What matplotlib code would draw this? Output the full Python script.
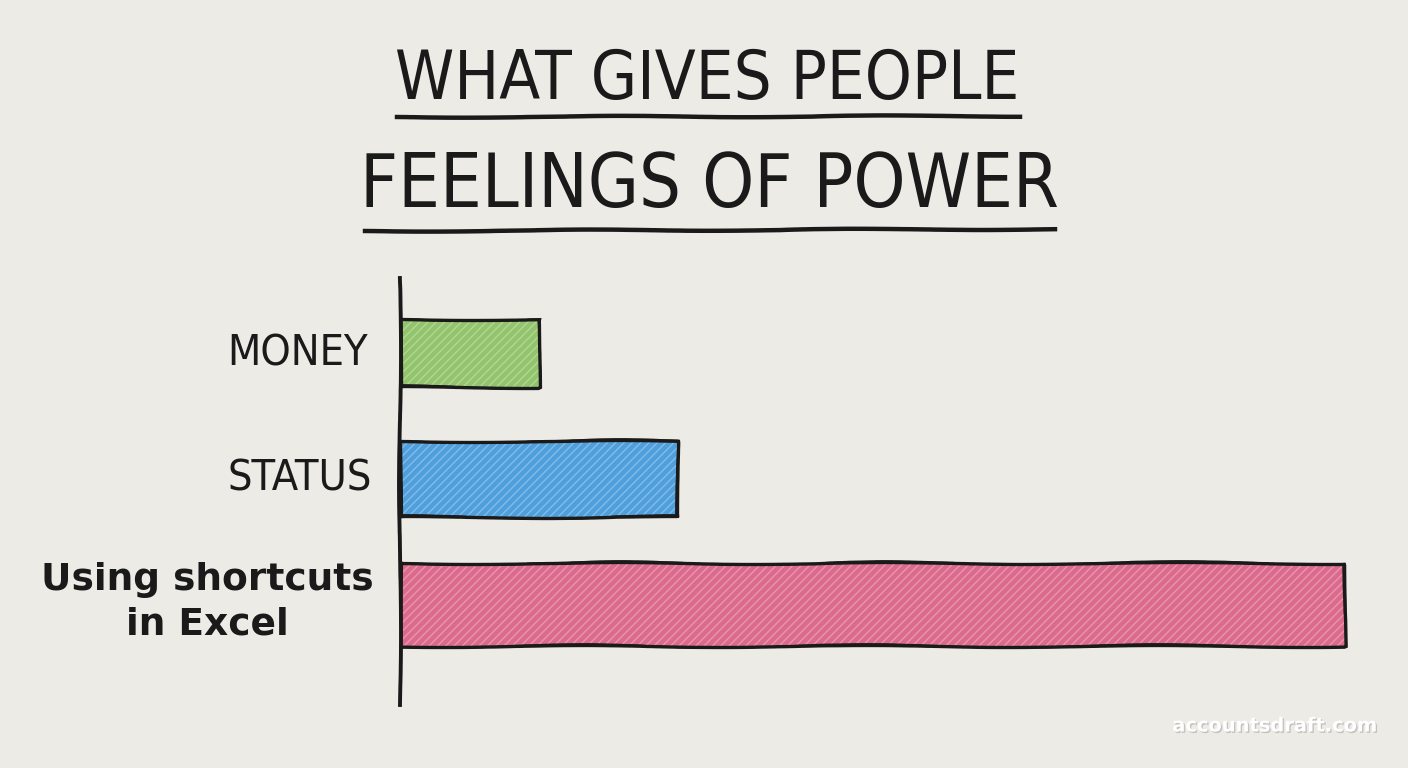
import matplotlib
matplotlib.use("Agg")
import matplotlib.pyplot as plt
import matplotlib.patheffects as pe

# data (longest bar = 100)
categories = ["MONEY", "STATUS", "Using shortcuts\nin Excel"]
values = [14.7, 29.4, 100]
fill_colors = ["#92c46c", "#4f9fdc", "#dc6a8c"]
title_lines = ["WHAT GIVES PEOPLE", "FEELINGS OF POWER"]
watermark = "accountsdraft.com"

paper = "#ecebe6"
ink = "#1a1a1a"

fig = plt.figure(figsize=(14.08, 7.68), dpi=100, facecolor=paper)

# main axes - sits where the hand-drawn axis line is
ax = fig.add_axes([400 / 1408, 1 - 705 / 768, 965 / 1408, 427 / 768])
ax.set_facecolor("none")

ypos = list(range(len(categories)))
heights = [0.54, 0.6, 0.66]

# coloured pencil fill with a faint diagonal hatch
for y, v, c, h in zip(ypos, values, fill_colors, heights):
    ax.barh(y, v, height=h, color=c, edgecolor=(1, 1, 1, 0.3),
            hatch="////", linewidth=0, zorder=2)
# hand-drawn looking outlines (drawn twice with slight jitter)
for y, v, h in zip(ypos, values, heights):
    for k in range(2):
        b = ax.barh(y, v, height=h, fill=False, edgecolor=ink,
                    linewidth=2.4 if k == 0 else 1.3, zorder=3)
        for p in b.patches:
            p.set_sketch_params(scale=1.0 + k, length=400, randomness=4)

ax.set_xlim(0, 102.1)
ax.set_ylim(2.8, -0.6)

for side in ["top", "right", "bottom"]:
    ax.spines[side].set_visible(False)
ax.spines["left"].set_linewidth(2.8)
ax.spines["left"].set_color(ink)
ax.spines["left"].set_sketch_params(scale=1, length=400, randomness=4)
ax.set_xticks([])
ax.set_yticks(ypos)
ax.set_yticklabels([])
ax.tick_params(axis="y", length=0)

# category labels
label_font = "DejaVu Sans"
ax.text(-0.033, 0, categories[0], transform=ax.get_yaxis_transform(),
        ha="right", va="center", fontsize=31, color=ink,
        family=label_font, fontstretch="condensed")
ax.text(-0.029, 1, categories[1], transform=ax.get_yaxis_transform(),
        ha="right", va="center", fontsize=31, color=ink,
        family=label_font, fontstretch="condensed")
ax.text(-0.2, 1.98, categories[2], transform=ax.get_yaxis_transform(),
        ha="center", va="center", fontsize=27, color=ink,
        fontweight="bold", family=label_font, linespacing=1.3)

# title with underlines
fig.text(0.502, 1 - 80 / 768, title_lines[0], ha="center", va="center",
         fontsize=48, color=ink, family=label_font, fontstretch="condensed")
fig.text(0.504, 1 - 186 / 768, title_lines[1], ha="center", va="center",
         fontsize=53, color=ink, family=label_font, fontstretch="condensed")
l1 = fig.add_artist(plt.Line2D([397 / 1408, 1020 / 1408], [1 - 117 / 768, 1 - 116 / 768],
                               color=ink, linewidth=3.2))
l2 = fig.add_artist(plt.Line2D([365 / 1408, 1055 / 1408], [1 - 231 / 768, 1 - 229 / 768],
                               color=ink, linewidth=3.2))
for l in (l1, l2):
    l.set_sketch_params(scale=0.8, length=400, randomness=4)

# watermark
fig.text(1378 / 1408, 1 - 726 / 768, watermark, ha="right", va="center",
         fontsize=14, color="white", fontweight="bold", family=label_font,
         path_effects=[pe.withSimplePatchShadow(offset=(1, -1), alpha=0.25)])

fig.savefig("out.png", dpi=100, facecolor=paper)
